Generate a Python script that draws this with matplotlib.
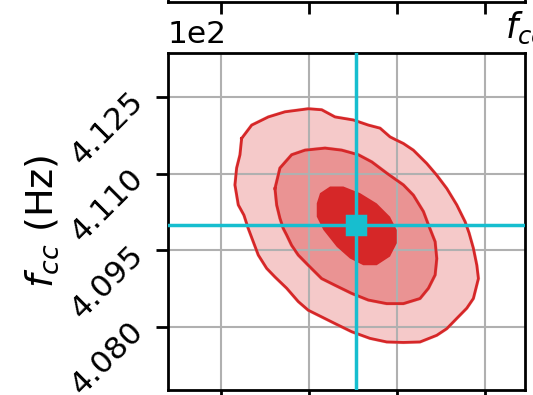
import matplotlib.pyplot as plt
from matplotlib.ticker import ScalarFormatter

# credible region outlines (x in arbitrary units, y = f_cc in Hz)
outer_x = [1.235, 1.349, 1.538, 1.727, 1.992, 2.144, 2.295, 2.504, 2.674, 2.807,
           2.920, 2.977, 3.072, 3.185, 3.337, 3.451, 3.565, 3.678, 3.773, 3.818,
           3.867, 3.906, 3.924, 3.867, 3.792, 3.678, 3.565, 3.451, 3.261, 3.072,
           2.883, 2.693, 2.485, 2.295, 2.144, 1.992, 1.878, 1.747, 1.614, 1.519,
           1.424, 1.367, 1.310, 1.261, 1.197, 1.159, 1.178, 1.216]
outer_y = [411.69, 411.95, 412.11, 412.21, 412.27, 412.25, 412.11, 412.05, 411.95, 411.89,
           411.72, 411.67, 411.59, 411.46, 411.20, 410.97, 410.71, 410.39, 410.06, 409.84,
           409.54, 409.21, 408.95, 408.56, 408.37, 408.17, 407.97, 407.84, 407.71, 407.70,
           407.71, 407.78, 407.91, 408.07, 408.20, 408.33, 408.50, 408.76, 408.98, 409.15,
           409.41, 409.67, 409.93, 410.19, 410.39, 410.78, 411.11, 411.37]

mid_x = [1.614, 1.670, 1.803, 1.955, 2.182, 2.372, 2.560, 2.713, 2.883, 3.072,
         3.185, 3.299, 3.356, 3.432, 3.451, 3.432, 3.356, 3.261, 3.072, 2.883,
         2.674, 2.485, 2.295, 2.144, 1.992, 1.878, 1.803, 1.747, 1.708, 1.670, 1.633]
mid_y = [410.71, 411.11, 411.37, 411.46, 411.50, 411.46, 411.37, 411.23, 411.01, 410.78,
         410.58, 410.26, 410.00, 409.67, 409.34, 409.02, 408.76, 408.56, 408.46, 408.46,
         408.53, 408.66, 408.82, 408.95, 409.21, 409.41, 409.60, 409.80, 409.93, 410.13, 410.39]

inner_x = [2.088, 2.125, 2.239, 2.390, 2.580, 2.769, 2.920, 2.997,
           2.997, 2.920, 2.769, 2.617, 2.466, 2.315, 2.163, 2.088]
inner_y = [410.42, 410.62, 410.75, 410.75, 410.62, 410.42, 410.16, 409.90,
           409.64, 409.38, 409.21, 409.21, 409.34, 409.57, 409.90, 410.16]

truth_x = 2.534
truth_fcc = 410.0

x_ticks = [1, 2, 3, 4]
y_ticks = [408.0, 409.5, 411.0, 412.5]

red = "#d62728"
cyan = "#17becf"

fig = plt.figure(figsize=(533 / 250, 395 / 250), dpi=250)

# panel above (only its lower edge shows)
ax_top = fig.add_axes([0.3152, 0.995, 0.670, 0.85])
ax_top.set_xlim(0.398, 4.455)
ax_top.set_xticks(x_ticks)
ax_top.set_xticklabels([])
ax_top.set_yticks([])

ax = fig.add_axes([0.3152, 0.0127, 0.670, 0.853])
ax.fill(outer_x, outer_y, color="#f5c9c9", zorder=1)
ax.fill(mid_x, mid_y, color="#ea9393", zorder=1.1)
ax.fill(inner_x, inner_y, color=red, zorder=1.8, lw=0)
ax.plot(outer_x + outer_x[:1], outer_y + outer_y[:1], color=red, lw=0.8, zorder=2)
ax.plot(mid_x + mid_x[:1], mid_y + mid_y[:1], color=red, lw=0.8, zorder=2)

ax.axvline(truth_x, color=cyan, lw=1.0, zorder=3)
ax.axhline(truth_fcc, color=cyan, lw=1.0, zorder=3)
ax.plot(truth_x, truth_fcc, "s", color=cyan, ms=5, zorder=4)

ax.set_xlim(0.398, 4.455)
ax.set_ylim(406.77, 413.36)
ax.set_xticks(x_ticks)
ax.set_xticklabels([])
ax.set_yticks(y_ticks)
fmt = ScalarFormatter()
fmt.set_powerlimits((0, 0))
ax.yaxis.set_major_formatter(fmt)
ax.tick_params(axis="y", pad=5, labelsize=9)
for lab in ax.get_yticklabels():
    lab.set_rotation(45)
    lab.set_rotation_mode("anchor")
    lab.set_ha("right")
    lab.set_va("center")
ax.yaxis.get_offset_text().set_fontsize(9)
ax.grid(True, color="#b0b0b0", lw=0.6)
ax.set_axisbelow("line")
ax.set_ylabel(r"$f_{cc}$ (Hz)", fontsize=11)
ax.yaxis.set_label_coords(-0.3, 0.5)

fig.text(0.947, 0.905, r"$f_{cc}$", fontsize=10, ha="left", va="baseline")

fig.savefig("out.png", dpi=250)
